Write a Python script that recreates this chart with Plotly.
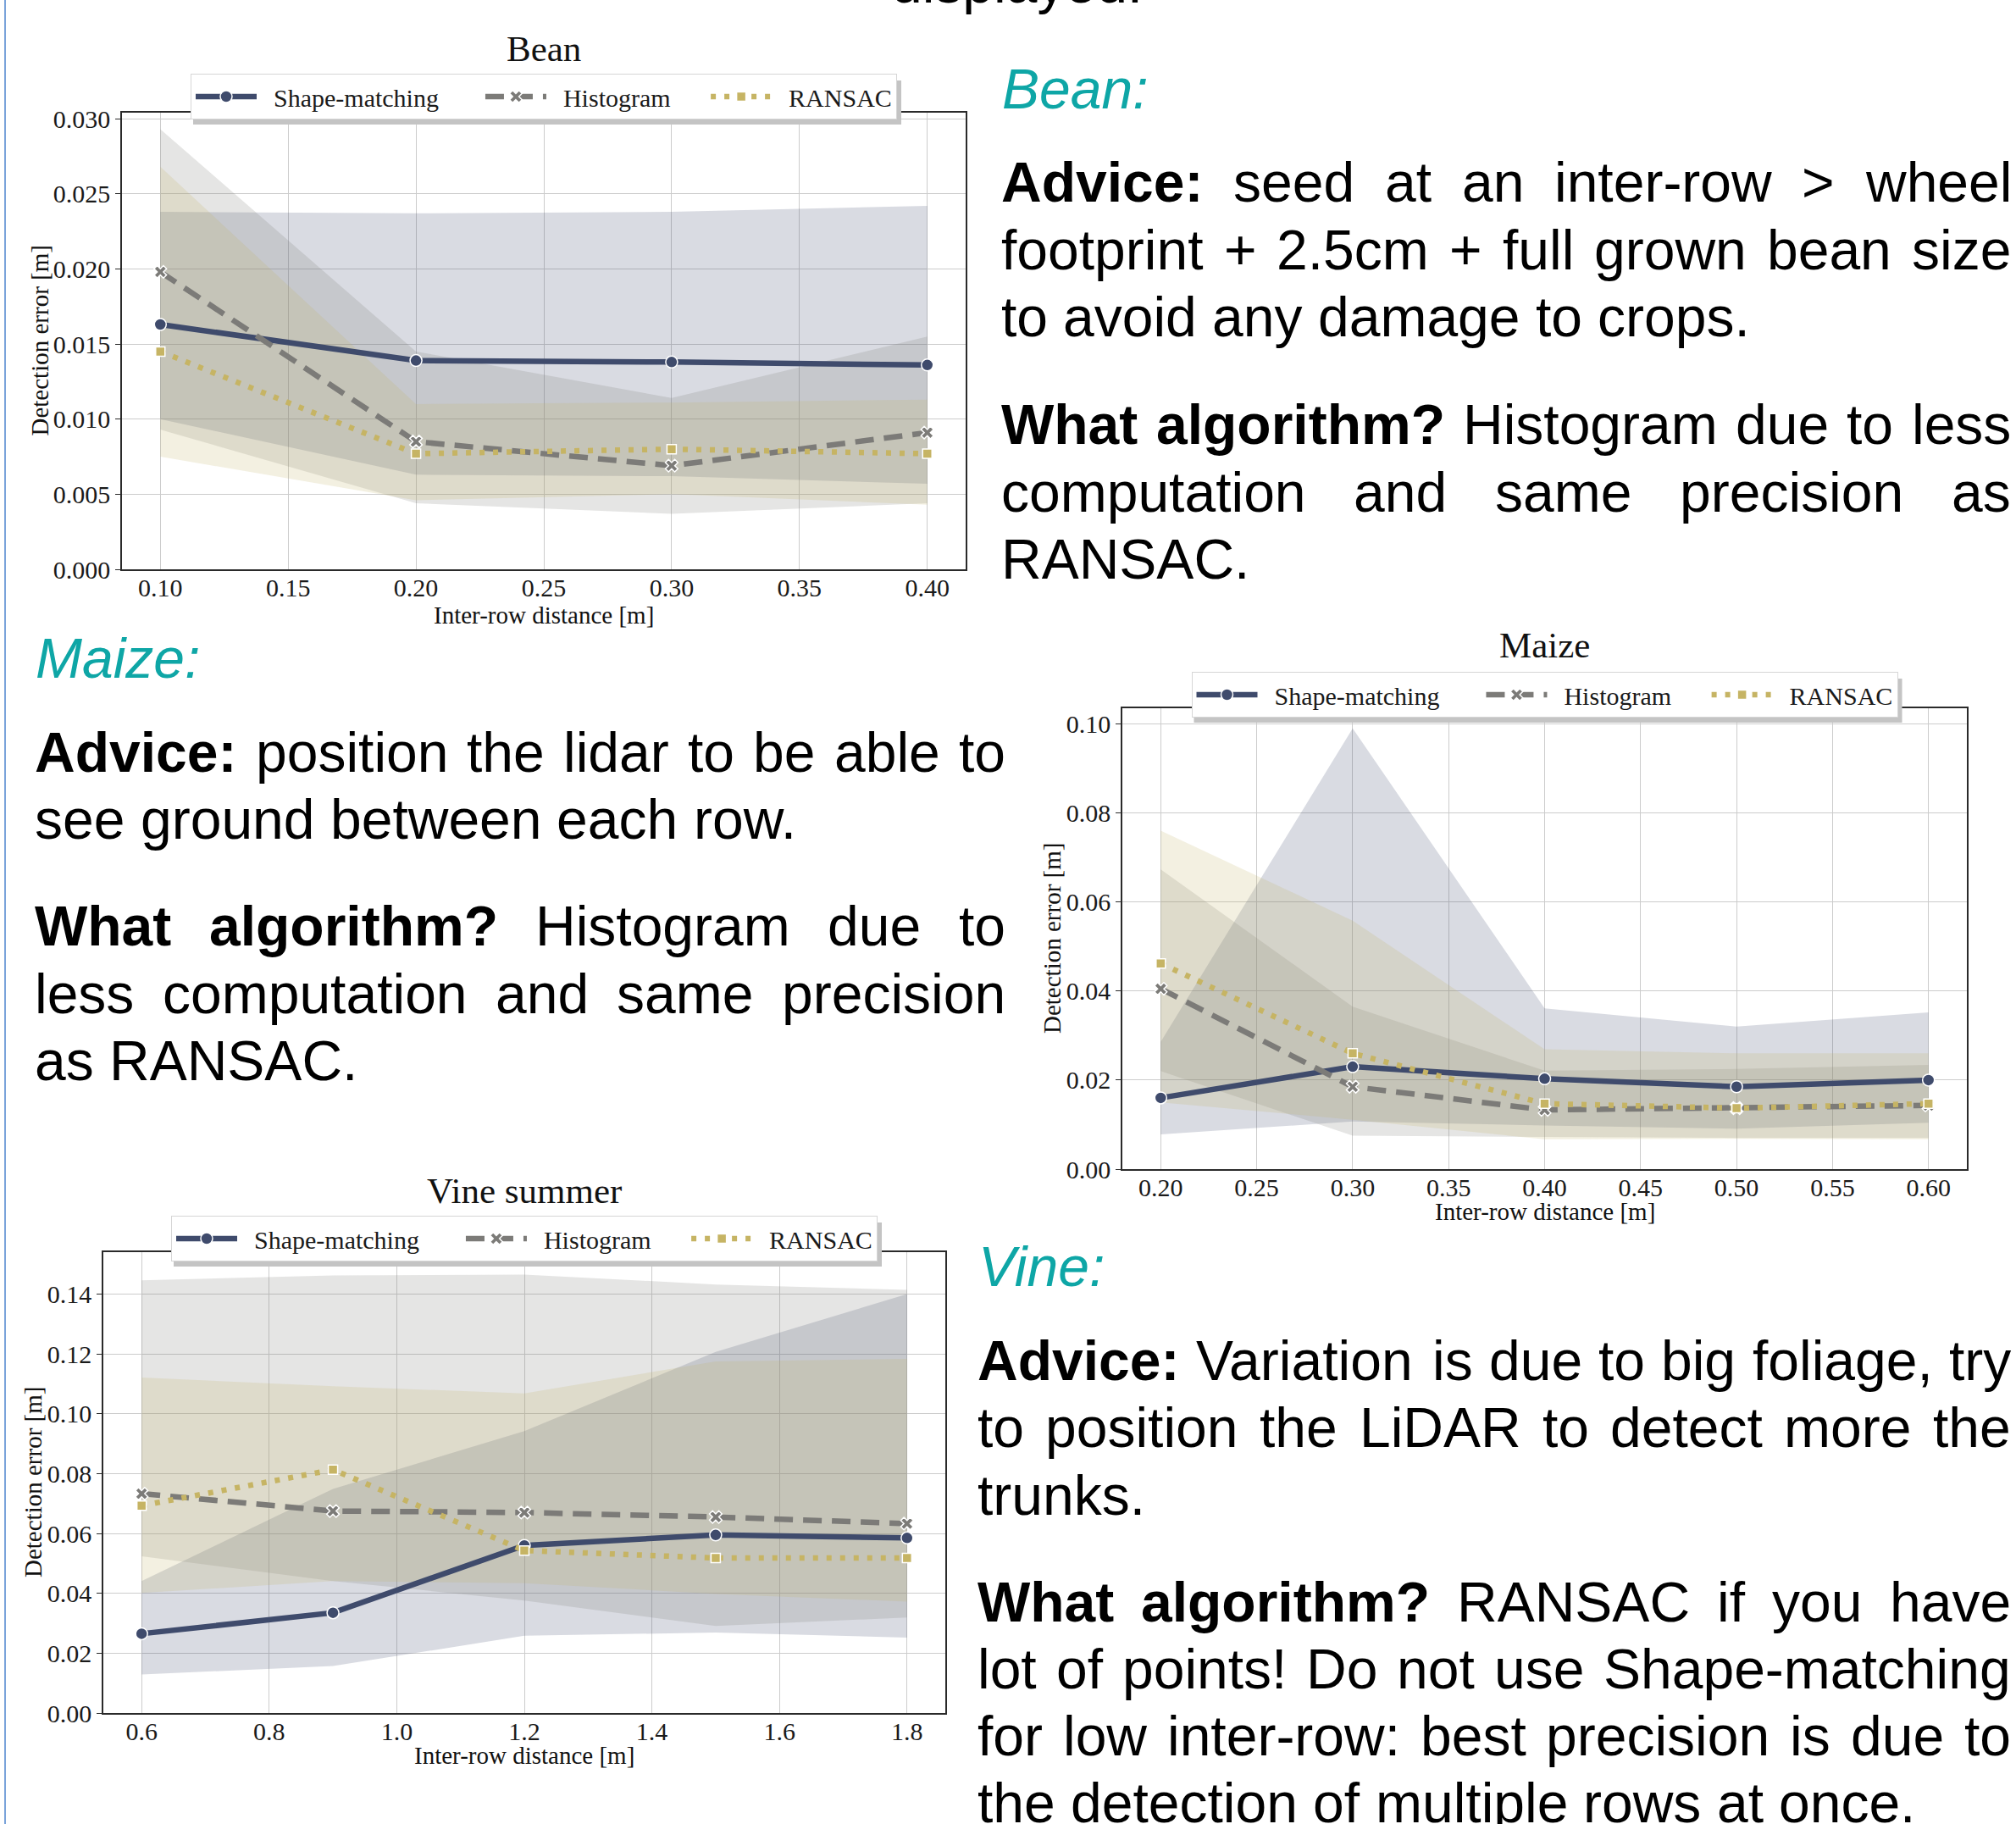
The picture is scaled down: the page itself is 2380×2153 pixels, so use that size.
import plotly.graph_objects as go

W, H = 2380, 2153

# ------------------------------------------------------------------ data
series_names = ["Shape-matching", "Histogram", "RANSAC"]

bean_x = [0.10, 0.20, 0.30, 0.40]
bean_shape = [0.0163, 0.0139, 0.0138, 0.0136]
bean_shape_lo = [0.0100, 0.0063, 0.0062, 0.0057]
bean_shape_hi = [0.0238, 0.0237, 0.0238, 0.0242]
bean_hist = [0.0198, 0.0085, 0.0069, 0.0091]
bean_hist_lo = [0.0093, 0.0044, 0.0037, 0.0044]
bean_hist_hi = [0.0293, 0.0145, 0.0114, 0.0155]
bean_ransac = [0.0145, 0.0077, 0.0080, 0.0077]
bean_ransac_lo = [0.0075, 0.0046, 0.0050, 0.0043]
bean_ransac_hi = [0.0268, 0.0110, 0.0111, 0.0113]

maize_x = [0.20, 0.30, 0.40, 0.50, 0.60]
maize_shape = [0.0160, 0.0230, 0.0203, 0.0185, 0.0200]
maize_shape_lo = [0.0078, 0.0107, 0.0098, 0.0091, 0.0104]
maize_shape_hi = [0.0286, 0.0990, 0.0361, 0.0320, 0.0352]
maize_hist = [0.0405, 0.0185, 0.0133, 0.0137, 0.0143]
maize_hist_lo = [0.0220, 0.0075, 0.0072, 0.0070, 0.0070]
maize_hist_hi = [0.0673, 0.0365, 0.0221, 0.0225, 0.0234]
maize_ransac = [0.0462, 0.0260, 0.0147, 0.0137, 0.0147]
maize_ransac_lo = [0.0150, 0.0111, 0.0067, 0.0068, 0.0067]
maize_ransac_hi = [0.0760, 0.0558, 0.0269, 0.0260, 0.0260]

vine_x = [0.6, 0.9, 1.2, 1.5, 1.8]
vine_shape = [0.0265, 0.0335, 0.0560, 0.0595, 0.0585]
vine_shape_lo = [0.0129, 0.0157, 0.0258, 0.0269, 0.0252]
vine_shape_hi = [0.0441, 0.0749, 0.0942, 0.1207, 0.1400]
vine_hist = [0.0733, 0.0675, 0.0670, 0.0655, 0.0633]
vine_hist_lo = [0.0524, 0.0441, 0.0376, 0.0291, 0.0319]
vine_hist_hi = [0.1446, 0.1462, 0.1465, 0.1432, 0.1414]
vine_ransac = [0.0693, 0.0813, 0.0543, 0.0518, 0.0518]
vine_ransac_lo = [0.0401, 0.0441, 0.0434, 0.0398, 0.0372]
vine_ransac_hi = [0.1121, 0.1092, 0.1068, 0.1175, 0.1183]

chart_titles = ["Bean", "Maize", "Vine summer"]
x_title = "Inter-row distance [m]"
y_title = "Detection error [m]"

top_text = "displayed."

bean_header = "Bean:"
bean_paras = [
    [("Advice:", "seed at an inter-row > wheel"),
     ("", "footprint + 2.5cm + full grown bean size"),
     ("", "to avoid any damage to crops.")],
    [("What algorithm?", "Histogram due to less"),
     ("", "computation and same precision as"),
     ("", "RANSAC.")],
]
maize_header = "Maize:"
maize_paras = [
    [("Advice:", "position the lidar to be able to"),
     ("", "see ground between each row.")],
    [("What algorithm?", "Histogram due to"),
     ("", "less computation and same precision"),
     ("", "as RANSAC.")],
]
vine_header = "Vine:"
vine_paras = [
    [("Advice:", "Variation is due to big foliage, try"),
     ("", "to position the LiDAR to detect more the"),
     ("", "trunks.")],
    [("What algorithm?", "RANSAC if you have"),
     ("", "lot of points! Do not use Shape-matching"),
     ("", "for low inter-row: best precision is due to"),
     ("", "the detection of multiple rows at once.")],
]

# ------------------------------------------------------------------ style
COLORS = ["#3f4b6c", "#7c7b78", "#c6b464"]
BANDS = ["rgba(63,75,108,0.2)", "rgba(124,123,120,0.2)", "rgba(196,180,106,0.2)"]
DASHES = ["solid", "22px,12px", "6px,10px"]
SYMBOLS = ["circle", "x", "square"]
MSIZES = [14, 13, 11]
SERIF = "Liberation Serif, Times New Roman, serif"
SANS = "Liberation Sans, Arial, sans-serif"
TEAL = "#0ea6a6"


def px(x):
    return x / W


def py(y):
    return 1 - y / H


fig = go.Figure()

charts = [
    dict(x=bean_x,
         ys=[(bean_shape, bean_shape_lo, bean_shape_hi),
             (bean_hist, bean_hist_lo, bean_hist_hi),
             (bean_ransac, bean_ransac_lo, bean_ransac_hi)],
         xr=[0.085, 0.415], yr=[0, 0.0304], xd=0.05, xf=".2f", yd=0.005, yf=".3f",
         box=(144, 1140, 133, 672), title_y=58, xt_y=726, yt_x=46,
         leg_top=91),
    dict(x=maize_x,
         ys=[(maize_shape, maize_shape_lo, maize_shape_hi),
             (maize_hist, maize_hist_lo, maize_hist_hi),
             (maize_ransac, maize_ransac_lo, maize_ransac_hi)],
         xr=[0.18, 0.62], yr=[0, 0.1035], xd=0.05, xf=".2f", yd=0.02, yf=".2f",
         box=(1325, 2322, 836, 1380), title_y=762, xt_y=1430, yt_x=1242,
         leg_top=797),
    dict(x=vine_x,
         ys=[(vine_shape, vine_shape_lo, vine_shape_hi),
             (vine_hist, vine_hist_lo, vine_hist_hi),
             (vine_ransac, vine_ransac_lo, vine_ransac_hi)],
         xr=[0.54, 1.86], yr=[0, 0.154], xd=0.2, xf=".1f", yd=0.02, yf=".2f",
         box=(122, 1116, 1478, 2022), title_y=1406, xt_y=2072, yt_x=39,
         leg_top=1439),
]

annotations = []
shapes = []
layout_extra = {}
LEAD = 2
PADS = [6, 5, 0]
LEG_HALF_W = 418
LEG_H = 51

for i, c in enumerate(charts):
    n = "" if i == 0 else str(i + 1)
    xa, ya = "x" + n, "y" + n
    leg = "legend" + n
    # bands
    for k, (m, lo, hi) in enumerate(c["ys"]):
        fig.add_trace(go.Scatter(
            x=list(c["x"]) + list(c["x"])[::-1], y=list(hi) + list(lo)[::-1],
            fill="toself", fillcolor=BANDS[k], line=dict(width=0),
            mode="lines", hoverinfo="skip", showlegend=False,
            xaxis=xa, yaxis=ya))
    # lines
    for k, (m, lo, hi) in enumerate(c["ys"]):
        fig.add_trace(go.Scatter(
            x=c["x"], y=m, mode="lines+markers",
            name="\u00a0" * LEAD + series_names[k] + "\u00a0" * PADS[k],
            line=dict(color=COLORS[k], width=6.5, dash=DASHES[k]),
            marker=dict(symbol=SYMBOLS[k], size=MSIZES[k], color=COLORS[k],
                        line=dict(color="white", width=1.5)),
            xaxis=xa, yaxis=ya, legend=leg))
    x0, x1, y0, y1 = c["box"]
    common = dict(showgrid=True, gridcolor="#cccccc", gridwidth=1.3,
                  showline=True, linecolor="#2a2a2a", linewidth=1.5, mirror=True,
                  zeroline=False, tickfont=dict(family=SERIF, size=30, color="#1a1a1a"))
    layout_extra["xaxis" + n] = dict(
        domain=[px(x0), px(x1)], anchor=ya, range=c["xr"], dtick=c["xd"],
        tick0=0, tickformat=c["xf"], ticks="", ticklabelstandoff=-6, **common)
    layout_extra["yaxis" + n] = dict(
        domain=[py(y1), py(y0)], anchor=xa, range=c["yr"], dtick=c["yd"],
        tick0=0, tickformat=c["yf"], ticks="outside", ticklen=6,
        tickcolor="#2a2a2a", **common)
    cx = (x0 + x1) / 2
    lt = c["leg_top"]
    layout_extra[leg] = dict(
        orientation="h", x=px(cx), xanchor="center", y=py(lt - 4),
        yanchor="top", bgcolor="white", bordercolor="#d6d6d6", borderwidth=1,
        itemwidth=72,
        font=dict(family=SERIF, size=30, color="#1a1a1a"))
    # legend drop shadow (the legend box is drawn above it)
    shapes.append(dict(type="rect", xref="paper", yref="paper",
                       x0=px(cx - LEG_HALF_W + 4), x1=px(cx + LEG_HALF_W + 4),
                       y0=py(lt + LEG_H + 5), y1=py(lt + 4),
                       fillcolor="#c4c4c4", line=dict(width=0), layer="above"))
    annotations.append(dict(text=chart_titles[i], x=px(cx), y=py(c["title_y"]),
                            xref="paper", yref="paper", showarrow=False,
                            xanchor="center", yanchor="middle",
                            font=dict(family=SERIF, size=43, color="#111")))
    annotations.append(dict(text=x_title, x=px(cx), y=py(c["xt_y"]),
                            xref="paper", yref="paper", showarrow=False,
                            xanchor="center", yanchor="middle",
                            font=dict(family=SERIF, size=29, color="#111")))
    annotations.append(dict(text=y_title, x=px(c["yt_x"]), y=py((y0 + y1) / 2),
                            xref="paper", yref="paper", showarrow=False,
                            textangle=-90, xanchor="center", yanchor="middle",
                            font=dict(family=SERIF, size=29, color="#111")))

# ------------------------------------------------------------------ text blocks
REG = dict(zip("abcdefghijklmnopqrstuvwxyz",
               [556, 556, 500, 556, 556, 278, 556, 556, 222, 222, 500, 222, 833,
                556, 556, 556, 556, 333, 500, 278, 556, 500, 722, 500, 500, 500]))
REG.update(dict(zip("ABCDEFGHIJKLMNOPQRSTUVWXYZ",
                    [667, 667, 722, 722, 667, 611, 778, 722, 278, 500, 667, 556, 833,
                     722, 778, 667, 778, 722, 667, 611, 722, 667, 944, 667, 667, 611])))
REG.update({d: 556 for d in "0123456789"})
REG.update({".": 278, ",": 278, ":": 278, "!": 278, "-": 333, "+": 584,
            ">": 584, "?": 556, " ": 278})
BOLD = {"A": 722, "d": 611, "v": 556, "i": 278, "c": 556, "e": 556, ":": 333,
        "W": 944, "h": 611, "a": 556, "t": 333, "l": 278, "g": 611, "o": 611,
        "r": 389, "m": 889, "?": 611, " ": 278}
FS = 66


def wwidth(word, bold):
    tbl = BOLD if bold else REG
    return sum(tbl.get(ch, 556) for ch in word) * FS / 1000.0


def add_block(header, paras, x0, x1, header_y, para_ys):
    annotations.append(dict(text="<i>" + header + "</i>", x=px(x0), y=py(header_y),
                            xref="paper", yref="paper", showarrow=False,
                            xanchor="left", yanchor="middle", borderpad=0,
                            font=dict(family=SANS, size=FS, color=TEAL)))
    for para, ys in zip(paras, para_ys):
        for li, ((bpart, rpart), yy) in enumerate(zip(para, ys)):
            words = [(w, True) for w in bpart.split()] + [(w, False) for w in rpart.split()]
            widths = [wwidth(w, b) for w, b in words]
            last = li == len(para) - 1
            if not last and len(words) > 1:
                gap = (x1 - x0 - sum(widths)) / (len(words) - 1)
            else:
                gap = REG[" "] * FS / 1000.0
            xx = x0
            for (w, b), ww in zip(words, widths):
                t = "<b>" + w + "</b>" if b else w
                annotations.append(dict(text=t, x=px(xx), y=py(yy), xref="paper",
                                        yref="paper", showarrow=False, xanchor="left",
                                        yanchor="middle", borderpad=0, borderwidth=0,
                                        font=dict(family=SANS, size=FS, color="#000")))
                xx += ww + gap


add_block(bean_header, bean_paras, 1182, 2374, 105,
          [[215, 295, 374], [501, 581, 660]])
add_block(maize_header, maize_paras, 41, 1187, 777,
          [[888, 967], [1093, 1173, 1252]])
add_block(vine_header, vine_paras, 1154, 2374, 1495,
          [[1606, 1685, 1765], [1891, 1970, 2049, 2128]])

annotations.append(dict(text=top_text, x=px(1200), y=py(-20), xref="paper", yref="paper",
                        showarrow=False, xanchor="center", yanchor="middle",
                        font=dict(family=SANS, size=FS, color="#000")))

shapes.append(dict(type="line", xref="paper", yref="paper", x0=px(6), x1=px(6),
                   y0=0, y1=1, line=dict(color="#7aa3da", width=2)))

fig.update_layout(
    width=W, height=H, margin=dict(l=0, r=0, t=0, b=0, autoexpand=False),
    paper_bgcolor="white", plot_bgcolor="white",
    font=dict(family=SERIF, color="#111"),
    annotations=annotations, shapes=shapes, **layout_extra)

fig.write_html("out.html", config={"displayModeBar": False},
               post_script="document.body.style.margin='0';")
